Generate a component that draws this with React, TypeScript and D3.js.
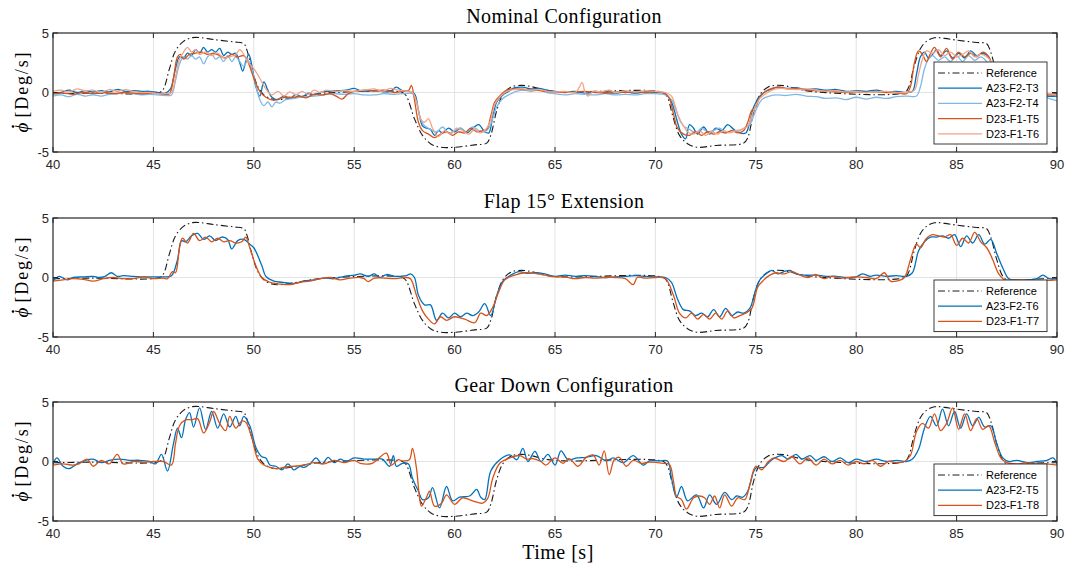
import React from "react";
import * as d3 from "d3";

type P = [number, number];

const X_TICKS = [40, 45, 50, 55, 60, 65, 70, 75, 80, 85, 90];
const Y_TICKS = [-5, 0, 5];
const TITLES = ["Nominal Configuration", "Flap 15° Extension", "Gear Down Configuration"];

const REF: P[] = [[40,-0.1],[42,-0.05],[45.3,0],[45.5,0.3],[45.8,2.0],[46.1,3.5],[46.5,4.3],[46.9,4.6],[47.3,4.62],[48,4.45],[49,4.25],[49.5,4.1],[49.65,3.6],[49.9,2.0],[50.2,0.5],[50.5,-0.2],[50.9,-0.55],[51.3,-0.6],[52,-0.45],[53,-0.15],[54,0],[57.4,0],[57.6,-0.3],[58,-2.2],[58.4,-3.6],[58.8,-4.3],[59.3,-4.6],[60,-4.6],[61,-4.4],[61.6,-4.25],[61.8,-3.6],[62.1,-1.5],[62.4,-0.2],[62.8,0.45],[63.3,0.6],[63.8,0.5],[64.5,0.2],[65.5,0.05],[70.4,0],[70.6,-0.4],[70.9,-2.2],[71.2,-3.6],[71.6,-4.3],[72.1,-4.6],[73,-4.45],[74.4,-4.25],[74.6,-3.8],[74.9,-1.6],[75.2,-0.2],[75.6,0.45],[76,0.6],[76.5,0.55],[77.2,0.25],[78,0.05],[82.4,0],[82.6,0.4],[82.9,2.3],[83.2,3.7],[83.5,4.3],[83.9,4.6],[84.4,4.55],[85,4.4],[86,4.2],[86.5,4.1],[86.7,3.4],[87,1.5],[87.3,0.1],[87.6,-0.3],[88,-0.35],[88.8,-0.15],[90,-0.1]];

const A23_F2_T3: P[] = [[40,-0.1],[40.4,0.0],[40.8,0.2],[41.2,0.0],[41.6,0.15],[42,0.05],[42.4,0.15],[42.8,0.05],[43.2,0.25],[43.6,0.1],[44,0.15],[44.4,0.1],[44.8,0.1],[45.2,0.0],[45.6,-0.05],[45.85,0.3],[46.1,2.0],[46.3,3.0],[46.5,2.9],[46.7,3.3],[46.9,3.1],[47.1,3.6],[47.3,3.3],[47.5,3.8],[47.7,3.4],[47.9,3.6],[48.1,3.4],[48.3,3.7],[48.5,3.1],[48.7,3.4],[48.9,3.2],[49.1,3.3],[49.3,2.5],[49.45,1.8],[49.6,2.6],[49.75,3.2],[49.9,2.3],[50.1,0.5],[50.3,-0.3],[50.5,0.9],[50.7,0.2],[50.9,-0.4],[51.2,-0.6],[51.5,-0.3],[51.8,-0.5],[52.1,-0.15],[52.4,-0.4],[52.7,-0.05],[53,-0.2],[53.4,0.05],[53.8,0.1],[54.2,0.15],[54.6,0.2],[55,0.35],[55.3,0.15],[55.7,0.1],[56.1,0.2],[56.5,0.05],[56.8,0.1],[57.1,0.45],[57.4,0.15],[57.7,0.1],[58.0,-0.1],[58.2,-1.5],[58.4,-2.8],[58.6,-3.0],[58.8,-3.1],[59.0,-3.6],[59.2,-3.2],[59.4,-3.4],[59.7,-3.0],[60.0,-3.3],[60.3,-3.0],[60.6,-3.4],[60.9,-3.0],[61.2,-2.7],[61.5,-3.3],[61.7,-3.4],[61.9,-2.0],[62.1,-0.8],[62.4,-0.2],[62.7,0.1],[63.0,0.4],[63.4,0.45],[63.8,0.3],[64.2,0.35],[64.6,0.2],[65,0.1],[65.5,0.05],[66,0.1],[66.5,-0.05],[67,0.05],[67.5,0.0],[68,-0.05],[68.5,0.05],[69,-0.05],[69.5,0.05],[70,0.0],[70.5,-0.1],[70.8,-0.8],[71.1,-2.5],[71.3,-3.5],[71.5,-3.9],[71.7,-2.7],[71.9,-3.0],[72.1,-3.5],[72.4,-2.9],[72.7,-3.5],[73,-3.0],[73.3,-3.2],[73.6,-2.7],[73.9,-3.1],[74.2,-3.4],[74.5,-3.4],[74.7,-2.5],[74.9,-1.2],[75.2,-0.3],[75.5,0.1],[75.8,0.3],[76.1,0.45],[76.5,0.35],[77,0.4],[77.5,0.25],[78,0.3],[78.5,0.2],[79,0.25],[79.5,0.1],[80,0.15],[80.5,0.1],[81,0.2],[81.5,0.05],[82,0.1],[82.5,0.0],[82.8,0.1],[83.0,1.5],[83.2,3.0],[83.4,3.4],[83.6,2.9],[83.8,3.2],[84.0,3.6],[84.2,3.1],[84.5,3.5],[84.8,2.9],[85.1,3.3],[85.4,2.9],[85.7,3.5],[86.0,3.1],[86.3,3.3],[86.6,3.0],[86.9,1.5],[87.2,0.3],[87.5,0.0],[88,0.1],[88.5,-0.1],[89,-0.1],[89.5,-0.3],[90,-0.3]];

const A23_F2_T4: P[] = [[40,-0.3],[40.4,-0.2],[40.8,-0.35],[41.2,-0.15],[41.6,-0.3],[42,-0.2],[42.4,-0.3],[42.8,-0.15],[43.2,-0.1],[43.6,0.0],[44,-0.1],[44.4,-0.2],[44.8,-0.15],[45.2,-0.2],[45.6,-0.25],[45.9,-0.2],[46.1,1.0],[46.3,2.4],[46.5,3.0],[46.7,2.8],[46.9,3.1],[47.1,2.8],[47.3,3.0],[47.5,2.4],[47.7,3.0],[47.9,3.2],[48.1,2.8],[48.3,3.0],[48.5,2.6],[48.7,3.1],[48.9,2.6],[49.1,3.0],[49.3,2.6],[49.5,2.2],[49.7,2.7],[49.9,2.0],[50.1,0.6],[50.3,-0.6],[50.5,-1.1],[50.7,-0.8],[50.9,-1.2],[51.1,-0.8],[51.3,-0.9],[51.6,-0.6],[52,-0.5],[52.5,-0.35],[53,-0.3],[53.5,-0.2],[54,-0.1],[54.5,-0.15],[55,-0.1],[55.5,-0.2],[56,-0.2],[56.5,-0.1],[57,-0.15],[57.5,-0.1],[57.9,-0.1],[58.1,-0.8],[58.3,-2.2],[58.5,-2.8],[58.8,-3.1],[59.1,-3.3],[59.4,-2.9],[59.7,-3.4],[60,-3.2],[60.3,-3.0],[60.6,-3.3],[60.9,-2.9],[61.2,-3.2],[61.5,-3.3],[61.7,-3.0],[61.9,-2.2],[62.1,-1.2],[62.4,-0.5],[62.7,-0.2],[63,0.05],[63.4,0.2],[63.8,0.1],[64.2,0.2],[64.6,0.0],[65,-0.1],[65.5,-0.2],[66,-0.1],[66.5,-0.15],[67,-0.2],[67.5,-0.1],[68,-0.2],[68.5,-0.15],[69,-0.2],[69.5,-0.1],[70,-0.1],[70.5,-0.2],[70.8,-0.6],[71.1,-1.8],[71.4,-2.8],[71.7,-3.1],[72,-3.4],[72.3,-3.0],[72.6,-3.3],[72.9,-3.2],[73.2,-3.0],[73.5,-3.4],[73.8,-3.2],[74.1,-3.3],[74.4,-3.0],[74.7,-2.7],[75,-1.5],[75.3,-0.6],[75.6,-0.35],[76,-0.2],[76.5,-0.25],[77,-0.15],[77.5,-0.3],[78,-0.35],[78.5,-0.5],[79,-0.45],[79.5,-0.6],[80,-0.4],[80.5,-0.55],[81,-0.4],[81.5,-0.5],[82,-0.35],[82.5,-0.3],[83,-0.3],[83.2,0.5],[83.4,2.0],[83.6,2.8],[83.8,3.1],[84.1,2.7],[84.4,3.0],[84.7,2.6],[85,3.1],[85.3,2.6],[85.6,3.1],[85.9,2.7],[86.2,3.0],[86.5,2.6],[86.8,2.0],[87.1,0.8],[87.4,-0.1],[87.8,-0.3],[88.5,-0.35],[89,-0.3],[89.5,-0.45],[90,-0.7]];

const D23_F1_T5: P[] = [[40,-0.1],[40.5,-0.05],[41,-0.15],[41.5,0.0],[42,-0.1],[42.5,0.0],[43,-0.1],[43.5,0.0],[44,-0.05],[44.5,-0.1],[45,-0.05],[45.5,-0.15],[45.8,-0.1],[46.0,1.2],[46.2,3.0],[46.35,3.2],[46.5,2.8],[46.8,3.2],[47.1,3.3],[47.4,3.4],[47.7,3.2],[48.0,3.3],[48.3,3.1],[48.6,2.9],[48.9,3.2],[49.2,3.0],[49.5,3.1],[49.7,2.6],[50.0,1.2],[50.3,0.1],[50.6,-0.4],[51.0,-0.65],[51.3,-0.5],[51.6,-0.4],[52,-0.4],[52.3,-0.3],[52.6,-0.45],[53,-0.15],[53.4,-0.2],[53.8,-0.1],[54.1,-0.3],[54.4,-0.55],[54.7,-0.1],[55,0.1],[55.5,0.2],[56,0.15],[56.5,0.2],[57,0.0],[57.4,0.1],[57.7,0.15],[57.85,0.6],[58.0,-0.6],[58.2,-2.5],[58.4,-3.2],[58.7,-3.5],[59,-3.8],[59.3,-3.5],[59.6,-3.3],[59.9,-3.6],[60.2,-3.3],[60.5,-3.4],[60.8,-3.0],[61.1,-3.3],[61.4,-3.2],[61.6,-3.1],[61.8,-2.0],[62.0,-0.8],[62.3,-0.2],[62.6,0.2],[63,0.3],[63.5,0.25],[64,0.2],[64.5,0.1],[65,0.05],[65.5,0.0],[66,0.05],[66.5,0.1],[67,0.0],[67.5,-0.05],[68,0.05],[68.5,0.0],[69,0.05],[69.5,0.0],[70,0.05],[70.5,-0.1],[70.7,-0.5],[70.9,-1.8],[71.1,-3.0],[71.4,-3.5],[71.7,-3.6],[72,-3.3],[72.3,-3.6],[72.6,-3.3],[72.9,-3.5],[73.2,-3.3],[73.5,-3.4],[73.8,-3.2],[74.1,-3.4],[74.4,-3.2],[74.6,-2.5],[74.8,-1.5],[75,-1.2],[75.2,-0.4],[75.5,0.1],[75.8,0.35],[76.2,0.45],[76.6,0.3],[77,0.35],[77.5,0.2],[78,0.15],[78.5,0.1],[79,0.05],[79.5,0.0],[80,0.05],[80.5,0.0],[81,0.05],[81.5,0.0],[82,0.0],[82.5,-0.1],[82.7,0.5],[82.9,2.5],[83.1,3.5],[83.3,3.2],[83.5,2.6],[83.7,3.3],[83.9,3.8],[84.2,3.0],[84.5,3.7],[84.8,2.8],[85.1,3.4],[85.4,3.0],[85.7,3.3],[86.0,3.0],[86.3,3.4],[86.6,3.0],[86.8,1.8],[87.1,0.5],[87.4,-0.1],[87.8,-0.3],[88.3,-0.2],[88.8,-0.3],[89.5,-0.2],[90,-0.2]];

const D23_F1_T6: P[] = [[40,0.1],[40.4,0.2],[40.8,0.05],[41.2,0.3],[41.6,0.15],[42,0.2],[42.4,0.0],[42.8,0.25],[43.2,0.1],[43.6,0.25],[44,0.1],[44.4,0.0],[44.8,0.0],[45.2,-0.1],[45.6,-0.1],[45.9,0.0],[46.1,1.3],[46.3,2.8],[46.5,3.4],[46.7,3.8],[46.9,3.4],[47.1,3.6],[47.3,3.2],[47.6,3.4],[47.9,3.1],[48.2,3.3],[48.5,2.9],[48.8,3.0],[49.1,3.2],[49.3,3.6],[49.5,3.2],[49.7,2.6],[50.0,2.0],[50.3,1.2],[50.6,0.3],[50.9,-0.2],[51.2,0.1],[51.5,-0.3],[51.8,0.05],[52.1,-0.2],[52.4,0.1],[52.7,-0.15],[53,0.2],[53.3,0.0],[53.6,0.2],[54,0.1],[54.5,0.15],[55,0.1],[55.5,0.2],[56,0.3],[56.4,0.1],[56.8,0.35],[57.2,0.2],[57.6,0.1],[57.9,0.0],[58.1,-0.8],[58.3,-2.2],[58.5,-2.5],[58.7,-2.2],[58.9,-3.0],[59.2,-3.7],[59.5,-3.2],[59.8,-3.5],[60.1,-3.0],[60.4,-3.2],[60.7,-3.5],[61.0,-3.1],[61.3,-3.4],[61.6,-3.0],[61.8,-2.3],[62.0,-1.0],[62.3,-0.3],[62.6,0.1],[63,0.25],[63.4,0.3],[63.8,0.2],[64.2,0.25],[64.6,0.1],[65,0.05],[65.5,0.1],[66,0.0],[66.2,0.4],[66.35,0.85],[66.5,0.0],[66.65,-0.3],[66.9,0.1],[67.3,0.05],[67.7,0.2],[68,0.0],[68.5,0.15],[69,0.05],[69.5,0.15],[70,0.1],[70.5,0.0],[70.8,-0.3],[71.0,-1.2],[71.2,-2.3],[71.4,-2.8],[71.6,-3.3],[71.9,-3.5],[72.2,-3.2],[72.5,-3.6],[72.8,-3.3],[73.1,-3.5],[73.4,-3.2],[73.7,-3.4],[74.0,-3.2],[74.3,-3.1],[74.6,-2.8],[74.9,-1.5],[75.2,-0.5],[75.5,-0.1],[75.8,0.2],[76.2,0.35],[76.6,0.3],[77,0.25],[77.5,0.3],[78,0.2],[78.5,0.1],[79,0.15],[79.5,0.05],[80,0.1],[80.5,0.0],[81,0.05],[81.5,0.1],[82,0.0],[82.5,0.0],[82.9,0.2],[83.1,1.5],[83.3,2.8],[83.5,3.5],[83.8,3.3],[84.1,3.6],[84.4,3.1],[84.7,3.4],[85,3.0],[85.3,3.2],[85.6,3.5],[85.9,3.0],[86.2,3.2],[86.5,3.0],[86.8,2.4],[87.1,1.0],[87.4,0.1],[87.8,-0.2],[88.3,-0.1],[89,-0.2],[89.5,-0.1],[90,-0.2]];

const A23_F2_T6: P[] = [[40,-0.3],[40.3,0.1],[40.7,-0.2],[41,0],[41.5,0.05],[42,0.1],[42.3,0],[42.6,0.1],[42.9,0.4],[43.2,0.1],[43.5,0.15],[44,0.1],[44.5,0.05],[45,0.05],[45.5,0.05],[45.9,0.15],[46.2,1.5],[46.4,3.1],[46.6,3.0],[46.9,3.5],[47.2,3.7],[47.5,3.2],[47.8,3.5],[48.1,3.1],[48.4,3.4],[48.7,3.2],[48.9,2.4],[49.2,3.1],[49.5,3.2],[49.8,2.8],[50.0,2.5],[50.4,1.0],[50.6,0.1],[51,-0.3],[51.4,-0.4],[52,-0.5],[52.5,-0.3],[53,-0.2],[53.5,-0.05],[54,-0.1],[54.5,0.1],[55,0.2],[55.3,0.3],[55.7,0.1],[56,0.3],[56.3,0.0],[56.6,0.25],[57,0.1],[57.3,0.1],[57.6,0.15],[57.8,0.3],[58.0,0.0],[58.2,-1.5],[58.5,-2.3],[58.8,-2.3],[59.1,-3.6],[59.4,-3.0],[59.7,-3.4],[60,-3.0],[60.3,-3.3],[60.6,-3.0],[60.9,-3.2],[61.2,-2.9],[61.5,-2.2],[61.8,-3.2],[62.1,-1.5],[62.4,-0.3],[62.8,0.2],[63.2,0.5],[63.6,0.35],[64,0.4],[64.5,0.3],[65,0.1],[65.5,0.2],[66,0.1],[66.5,0.15],[67,0.1],[67.5,0],[68,0.05],[68.5,0.1],[69,0.15],[69.5,0.1],[70,0.05],[70.5,0.0],[70.8,-0.4],[71.1,-1.8],[71.4,-2.7],[71.7,-2.8],[72,-3.2],[72.3,-3.0],[72.6,-3.3],[72.9,-2.7],[73.2,-3.3],[73.5,-2.6],[73.8,-3.2],[74.1,-2.9],[74.4,-3.0],[74.7,-2.6],[75,-1.0],[75.2,-0.2],[75.5,0.3],[75.8,0.6],[76.1,0.3],[76.4,0.5],[76.7,0.6],[77,0.3],[77.5,0.2],[78,0.2],[78.5,0.1],[79,0.1],[79.5,0.0],[80,0.05],[80.3,0.3],[80.7,0.1],[81,0.2],[81.5,0.1],[82,0.15],[82.5,0.1],[82.8,0.4],[83.1,2.2],[83.4,3.0],[83.7,3.4],[84,3.4],[84.3,3.5],[84.6,3.3],[84.9,3.6],[85.2,2.6],[85.5,3.5],[85.8,2.9],[86.1,3.6],[86.4,2.8],[86.7,3.2],[87,2.0],[87.3,0.8],[87.6,-0.1],[88,-0.2],[88.5,-0.2],[89,-0.1],[89.3,0.2],[89.6,-0.1],[90,-0.1]];

const D23_F1_T7: P[] = [[40,-0.3],[40.5,-0.2],[41,-0.1],[41.5,-0.15],[42,-0.3],[42.5,-0.1],[43,0],[43.5,-0.1],[44,-0.1],[44.5,0.05],[45,-0.1],[45.5,-0.05],[45.7,-0.1],[45.95,0.5],[46.1,0.4],[46.3,2.5],[46.45,3.3],[46.7,2.9],[47.0,3.7],[47.3,3.1],[47.6,3.4],[47.9,3.0],[48.2,3.3],[48.5,3.0],[48.8,3.1],[49.1,2.9],[49.4,3.0],[49.6,3.4],[49.8,2.5],[50.1,1.0],[50.4,0],[50.8,-0.4],[51.3,-0.55],[51.8,-0.6],[52.3,-0.4],[52.8,-0.3],[53.3,-0.1],[53.8,0],[54.3,-0.2],[54.8,-0.05],[55.3,0.0],[55.5,-0.1],[55.7,-0.35],[56,-0.05],[56.5,-0.05],[57,-0.1],[57.5,0],[57.8,-0.1],[58.1,-1.5],[58.4,-2.8],[58.7,-3.5],[59,-3.9],[59.3,-3.3],[59.6,-3.6],[60,-3.3],[60.5,-3.5],[61,-3.8],[61.3,-3.0],[61.6,-3.2],[61.9,-2.5],[62.2,-1.2],[62.5,-0.2],[63,0.2],[63.5,0.4],[64,0.35],[64.5,0.2],[65,0.05],[65.5,0.05],[66,-0.1],[66.5,0],[67,-0.05],[67.5,0.0],[68,0],[68.5,-0.1],[68.9,-0.6],[69.1,0.0],[69.5,-0.05],[70,0],[70.5,-0.1],[70.9,-1.5],[71.2,-3.0],[71.5,-3.4],[71.8,-3.0],[72.1,-3.5],[72.4,-3.1],[72.7,-3.5],[73,-3.0],[73.3,-3.5],[73.6,-2.8],[73.9,-3.4],[74.2,-3.2],[74.5,-3.0],[74.8,-2.6],[75.1,-0.8],[75.4,-0.2],[75.7,0.2],[76,0.4],[76.4,0.3],[76.8,0.5],[77.2,0.2],[77.6,0.0],[78,0.25],[78.4,-0.1],[78.8,0.1],[79.2,-0.05],[79.6,0],[80,0.05],[80.5,0.0],[81,-0.1],[81.4,0.4],[81.7,-0.3],[82,-0.3],[82.4,0.0],[82.7,1.5],[83,2.8],[83.2,2.5],[83.5,3.3],[83.8,3.6],[84.1,3.5],[84.4,3.4],[84.7,3.6],[85,2.7],[85.3,3.3],[85.6,2.9],[85.9,3.8],[86.2,3.0],[86.5,2.5],[86.8,1.5],[87.1,0.3],[87.4,-0.2],[87.8,-0.2],[88.5,-0.25],[89,-0.3],[89.5,-0.25],[90,-0.2]];

const A23_F2_T5: P[] = [[40,-0.2],[40.2,0.3],[40.5,-0.4],[40.8,-0.6],[41.2,-0.2],[41.6,0.1],[42,0.2],[42.4,-0.1],[42.8,0.1],[43.3,0.2],[43.8,0.1],[44.3,0.1],[44.8,0.0],[45.1,-0.2],[45.4,0.6],[45.7,-0.8],[46,1.5],[46.2,2.8],[46.4,2.0],[46.6,3.5],[46.8,4.1],[47.0,2.9],[47.3,4.5],[47.6,2.7],[47.9,4.2],[48.2,2.8],[48.5,4.0],[48.8,2.9],[49.1,3.8],[49.3,3.0],[49.5,3.8],[49.8,3.0],[50.1,1.2],[50.4,0.4],[50.6,0.3],[50.8,-0.3],[51.1,-0.4],[51.4,-0.7],[51.7,-0.2],[52.0,-0.7],[52.3,-0.4],[52.5,-0.5],[52.8,-0.2],[53.1,0.3],[53.4,-0.2],[53.7,0.35],[54,-0.1],[54.3,0.2],[54.6,0.0],[55,0.3],[55.5,0.2],[56,0.2],[56.4,0.2],[56.76,-0.4],[56.95,0.5],[57.1,-0.4],[57.4,-0.15],[57.7,-0.2],[57.9,-1.4],[58.2,-2.5],[58.4,-3.2],[58.7,-3.05],[58.9,-2.2],[59.25,-3.9],[59.6,-2.1],[59.9,-3.3],[60.25,-3.0],[60.75,-2.9],[61.1,-2.35],[61.3,-3.0],[61.5,-3.2],[61.8,-0.8],[62.25,0.15],[62.75,0.55],[63.1,0.15],[63.4,1.1],[63.65,0.0],[64,0.85],[64.3,0.0],[64.65,0.6],[65,-0.3],[65.3,0.9],[65.65,0.15],[66.1,0.3],[66.55,0.35],[67.05,0.5],[67.55,0.05],[67.9,0.3],[68.4,-0.1],[68.9,0.5],[69.4,-0.3],[69.7,0.05],[70.2,0.05],[70.6,0.05],[70.8,-1.4],[71.05,-3.0],[71.3,-2.1],[71.6,-3.3],[72.05,-2.8],[72.4,-3.9],[72.7,-2.8],[73.05,-3.6],[73.45,-2.6],[73.8,-3.2],[74.05,-2.9],[74.35,-3.0],[74.6,-2.5],[75.0,-0.55],[75.4,-0.5],[75.7,0],[75.95,0.3],[76.3,0.5],[76.6,0.2],[77,0.6],[77.3,0.2],[77.7,0.5],[78,0.1],[78.4,0.4],[78.8,0.0],[79.2,0.3],[79.6,-0.1],[80,0.2],[80.5,0.0],[81,0.2],[81.5,0],[82,0.1],[82.5,0],[82.8,0.2],[83.1,1.0],[83.4,2.8],[83.7,3.8],[84.0,3.0],[84.3,4.4],[84.6,3.0],[84.9,4.2],[85.2,2.8],[85.5,4.0],[85.8,3.0],[86.1,3.7],[86.4,2.9],[86.7,3.0],[87.0,1.5],[87.3,0.3],[87.6,0],[88,0.1],[88.5,-0.1],[89,0.0],[89.5,0.1],[89.8,0.3],[90,-0.2]];

const D23_F1_T8: P[] = [[40,-0.3],[40.5,-0.2],[41,-0.3],[41.3,-0.2],[41.7,0.2],[42,-0.4],[42.4,0.1],[42.8,-0.2],[43.2,0.6],[43.5,-0.2],[44,0],[44.5,-0.05],[45,0.0],[45.5,0.0],[45.9,-0.3],[46.1,1.5],[46.3,3.0],[46.6,3.5],[46.9,3.5],[47.2,3.6],[47.5,2.4],[47.8,3.3],[48.0,4.2],[48.3,3.2],[48.6,2.6],[48.8,3.8],[49.1,2.8],[49.4,3.4],[49.6,3.3],[49.9,2.0],[50.2,0.2],[50.5,-0.3],[50.8,-0.5],[51.2,-0.6],[51.6,-0.45],[52,-0.4],[52.5,-0.3],[53,-0.1],[53.5,-0.2],[54,0.1],[54.5,-0.1],[55,0.1],[55.3,-0.15],[55.9,-0.15],[56.6,0.7],[56.85,-0.3],[57.2,0.15],[57.4,0.05],[57.75,0.15],[57.9,1.1],[58.1,-0.55],[58.25,-3.0],[58.35,-3.75],[58.6,-3.0],[58.75,-2.5],[59.0,-3.75],[59.35,-3.5],[59.6,-2.8],[60,-3.6],[60.4,-3.05],[60.9,-3.3],[61.4,-3.5],[61.65,-3.1],[61.9,-1.4],[62.25,-0.15],[62.75,0.3],[63.25,0.5],[63.6,0.2],[63.9,0.25],[64.3,0.0],[64.55,-0.3],[65,0.3],[65.4,-0.15],[65.7,0.25],[66.15,-0.4],[66.55,0.35],[66.9,0.55],[67.2,-0.3],[67.45,0.9],[67.7,-1.1],[67.95,0.15],[68.2,0.35],[68.55,-0.4],[68.9,0.1],[69.3,-0.15],[69.7,-0.05],[70.4,-0.15],[70.7,-0.25],[70.9,-1.65],[71.05,-2.9],[71.3,-3.2],[71.55,-4.0],[71.9,-3.05],[72.2,-2.9],[72.45,-3.05],[72.7,-3.6],[72.95,-2.9],[73.2,-3.9],[73.45,-2.8],[73.8,-3.75],[74.1,-3.05],[74.45,-3.2],[74.7,-1.95],[75.0,-0.4],[75.3,-0.7],[75.6,-0.05],[75.9,0.3],[76.4,0.0],[76.8,0.4],[77.2,-0.2],[77.6,0.3],[78,-0.3],[78.4,0.2],[78.8,-0.2],[79.2,0.1],[79.6,-0.3],[80,0],[80.4,-0.2],[80.8,0.1],[81.2,-0.4],[81.6,0.0],[82,-0.1],[82.4,0.0],[82.7,0.5],[83.0,2.5],[83.3,3.2],[83.6,2.8],[83.9,4.0],[84.2,2.6],[84.5,3.2],[84.8,4.5],[85.1,2.7],[85.4,4.0],[85.7,2.6],[86.0,3.6],[86.3,2.7],[86.6,3.0],[86.9,1.6],[87.2,0.3],[87.5,-0.1],[88,-0.2],[88.5,-0.1],[89,-0.2],[89.5,-0.2],[90,-0.3]];

const DARK_BLUE = "#0072BD";
const LIGHT_BLUE = "#7FB8E6";
const DARK_RED = "#D95319";
const SALMON = "#F1A486";

type Series = { name: string; data: P[]; color: string; dash?: string; width?: number };

const REF_STYLE = { color: "#1a1a1a", dash: "7,3,1.5,3", width: 1.1 };

const PANEL_SERIES: Series[][] = [
  [
    { name: "Reference", data: REF, ...REF_STYLE },
    { name: "A23-F2-T3", data: A23_F2_T3, color: DARK_BLUE },
    { name: "A23-F2-T4", data: A23_F2_T4, color: LIGHT_BLUE },
    { name: "D23-F1-T5", data: D23_F1_T5, color: DARK_RED },
    { name: "D23-F1-T6", data: D23_F1_T6, color: SALMON },
  ],
  [
    { name: "Reference", data: REF, ...REF_STYLE },
    { name: "A23-F2-T6", data: A23_F2_T6, color: DARK_BLUE },
    { name: "D23-F1-T7", data: D23_F1_T7, color: DARK_RED },
  ],
  [
    { name: "Reference", data: REF, ...REF_STYLE },
    { name: "A23-F2-T5", data: A23_F2_T5, color: DARK_BLUE },
    { name: "D23-F1-T8", data: D23_F1_T8, color: DARK_RED },
  ],
];

const W = 1065;
const H = 570;
const LEFT = 53;
const RIGHT = 1057;
const PANEL_TOPS = [33, 218, 402];
const PANEL_H = 119;
const LEGEND_TOPS = [62, 280, 464];
const TITLE_X = 564;
const AXIS_COLOR = "#262626";
const SANS = "'Liberation Sans', Arial, Helvetica, sans-serif";
const SERIF = "'Liberation Serif', 'Times New Roman', serif";

function Panel({ idx }: { idx: number }) {
  const top = PANEL_TOPS[idx];
  const bottom = top + PANEL_H;
  const x = d3.scaleLinear().domain([40, 90]).range([LEFT, RIGHT]);
  const y = d3.scaleLinear().domain([-5, 5]).range([bottom, top]);
  const line = d3
    .line<P>()
    .x((d) => x(d[0]))
    .y((d) => y(d[1]))
    .curve(d3.curveCatmullRom.alpha(0.5));
  const series = PANEL_SERIES[idx];
  const clipId = `clip${idx}`;
  const lg = LEGEND_TOPS[idx];
  const rowH = 15.2;
  const lgH = series.length * rowH + 6;
  const lgL = 934;
  const lgR = 1047;
  const cy = (top + bottom) / 2;
  return (
    <g>
      <defs>
        <clipPath id={clipId}>
          <rect x={LEFT} y={top} width={RIGHT - LEFT} height={PANEL_H} />
        </clipPath>
      </defs>
      <rect x={LEFT} y={top} width={RIGHT - LEFT} height={PANEL_H} fill="#fff" />
      {X_TICKS.slice(1, -1).map((t) => (
        <line key={"gx" + t} x1={x(t)} x2={x(t)} y1={top} y2={bottom} stroke="#e3e3e3" strokeWidth={1} />
      ))}
      <line x1={LEFT} x2={RIGHT} y1={y(0)} y2={y(0)} stroke="#e3e3e3" strokeWidth={1} />
      <g clipPath={`url(#${clipId})`}>
        {series.map((s) => (
          <path
            key={s.name}
            d={line(s.data) || ""}
            fill="none"
            stroke={s.color}
            strokeWidth={s.width ?? 1.3}
            strokeDasharray={s.dash}
            strokeLinejoin="round"
          />
        ))}
      </g>
      {X_TICKS.map((t) => (
        <g key={"tx" + t}>
          <line x1={x(t)} x2={x(t)} y1={bottom} y2={bottom - 5} stroke={AXIS_COLOR} />
          <line x1={x(t)} x2={x(t)} y1={top} y2={top + 5} stroke={AXIS_COLOR} />
          <text x={x(t)} y={bottom + 17} textAnchor="middle" fontFamily={SANS} fontSize={13} fill={AXIS_COLOR}>
            {t}
          </text>
        </g>
      ))}
      {Y_TICKS.map((t) => (
        <g key={"ty" + t}>
          <line x1={LEFT} x2={LEFT + 5} y1={y(t)} y2={y(t)} stroke={AXIS_COLOR} />
          <line x1={RIGHT} x2={RIGHT - 5} y1={y(t)} y2={y(t)} stroke={AXIS_COLOR} />
          <text x={LEFT - 4} y={y(t) + 4.5} textAnchor="end" fontFamily={SANS} fontSize={13} fill={AXIS_COLOR}>
            {t}
          </text>
        </g>
      ))}
      <rect x={LEFT} y={top} width={RIGHT - LEFT} height={PANEL_H} fill="none" stroke={AXIS_COLOR} strokeWidth={1.2} />
      <text
        x={TITLE_X}
        y={top - 10}
        textAnchor="middle"
        fontFamily={SERIF}
        fontSize={20}
        letterSpacing={0.4}
        fill="#000"
      >
        {TITLES[idx]}
      </text>
      <g transform={`translate(0,${cy}) rotate(-90)`}>
        <text x={-40} y={28} fontFamily={SERIF} fontSize={19} fontStyle="italic" fill="#000">
          {"ϕ"}
        </text>
        <circle cx={-34} cy={13} r={1.3} fill="#000" />
        <text
          x={-25}
          y={28}
          fontFamily={SERIF}
          fontSize={18}
          textLength={65}
          lengthAdjust="spacing"
          fill="#000"
        >
          {"[Deg/s]"}
        </text>
      </g>
      <g>
        <rect x={lgL} y={lg} width={lgR - lgL} height={lgH} fill="#fff" stroke={AXIS_COLOR} strokeWidth={0.9} />
        {series.map((s, i) => {
          const ry = lg + 11 + i * rowH;
          return (
            <g key={"lg" + s.name}>
              <line
                x1={lgL + 4}
                x2={lgL + 48}
                y1={ry}
                y2={ry}
                stroke={s.color}
                strokeWidth={s.width ?? 1.3}
                strokeDasharray={s.dash}
              />
              <text x={lgL + 52} y={ry + 4} fontFamily={SANS} fontSize={11} fill="#000">
                {s.name}
              </text>
            </g>
          );
        })}
      </g>
    </g>
  );
}

export default function App() {
  return (
    <svg
      width={W}
      height={H}
      viewBox={`0 0 ${W} ${H}`}
      style={{ position: "absolute", left: 0, top: 0, background: "#fff" }}
    >
      <rect x={0} y={0} width={W} height={H} fill="#fff" />
      {[0, 1, 2].map((i) => (
        <Panel key={i} idx={i} />
      ))}
      <text
        x={558}
        y={559}
        textAnchor="middle"
        fontFamily={SERIF}
        fontSize={20}
        letterSpacing={0.5}
        fill="#000"
      >
        Time [s]
      </text>
    </svg>
  );
}
